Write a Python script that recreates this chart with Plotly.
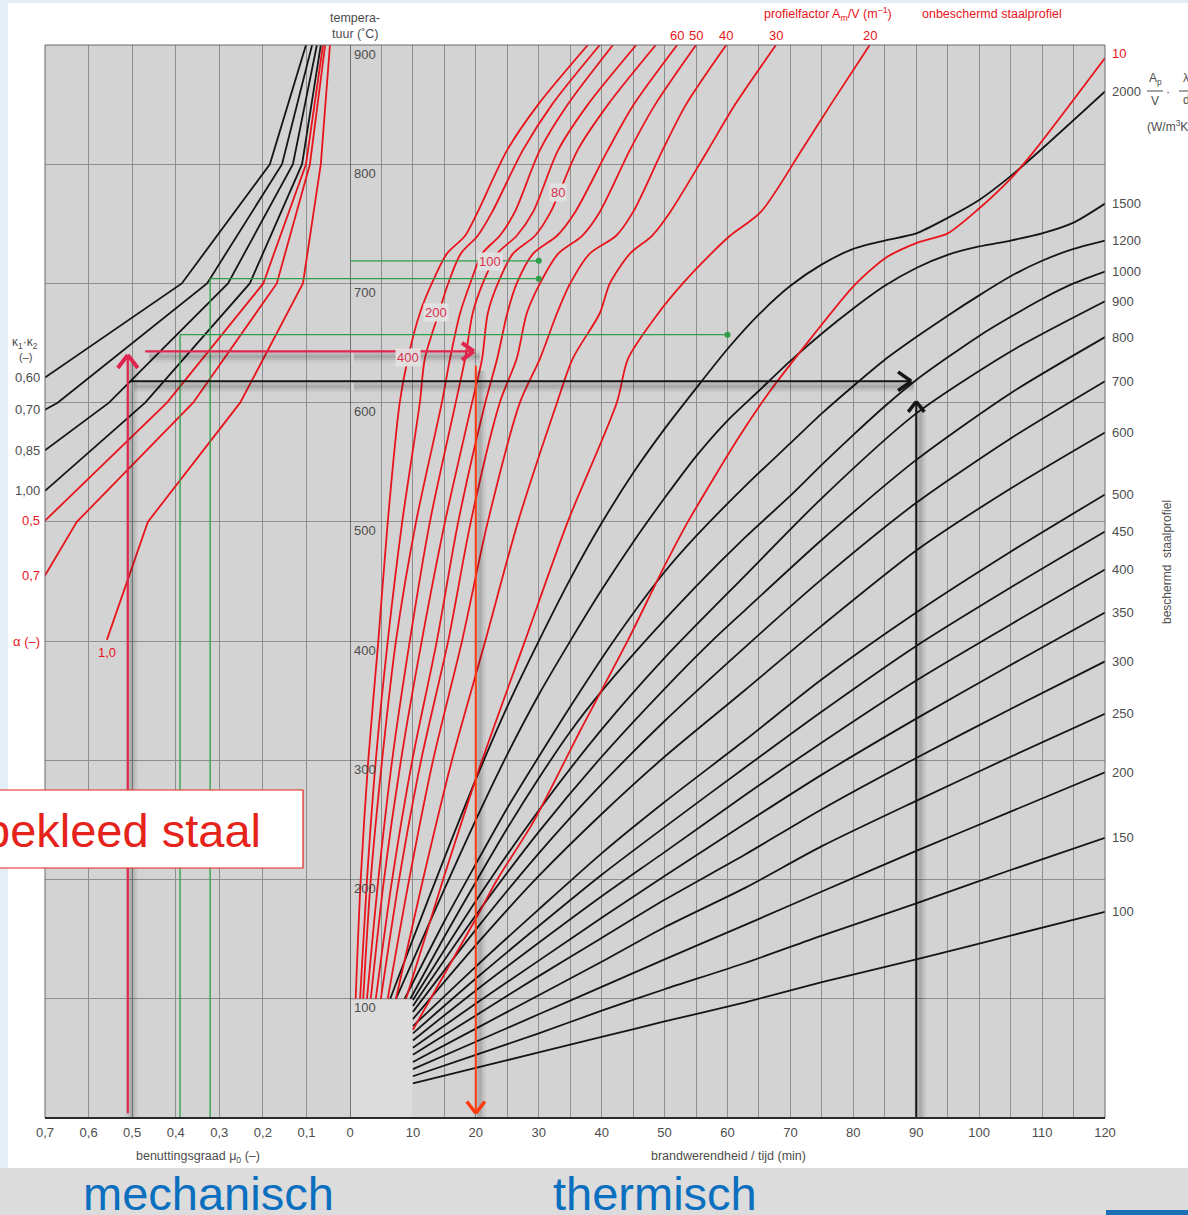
import plotly.graph_objects as go

# ------------------------------------------------------------------
# Mechanical panel (left): critical steel temperature vs utilisation mu0
# ------------------------------------------------------------------
kappa_names = ["0,60", "0,70", "0,85", "1,00"]
kappa_T = [[621, 700, 800, 900],
           [594, 600, 700, 800, 900],
           [560, 600, 700, 800, 900],
           [526, 600, 700, 800, 900]]
kappa_mu = [[0.70, 0.386, 0.184, 0.101],
            [0.70, 0.671, 0.328, 0.156, 0.087],
            [0.70, 0.553, 0.280, 0.131, 0.076],
            [0.70, 0.470, 0.230, 0.110, 0.067]]

alpha_names = ["0,5", "0,7", "1,0"]
alpha_T = [[501, 600, 700, 800, 900],
           [455, 500, 600, 700, 800, 900],
           [401, 500, 600, 700, 800, 900]]
alpha_mu = [[0.70, 0.420, 0.199, 0.101, 0.062],
            [0.70, 0.627, 0.360, 0.168, 0.092, 0.057],
            [0.558, 0.464, 0.252, 0.108, 0.067, 0.046]]

# ------------------------------------------------------------------
# Thermal panel (right): protected steel, Ap/V * lambda_p/d_p (W/m3K)
# ------------------------------------------------------------------
prot_names = ["2000", "1500", "1200", "1000", "900", "800", "700", "600",
              "500", "450", "400", "350", "300", "250", "200", "150", "100"]
prot_t = [
    [6.4, 10, 15, 20, 25, 30, 35, 40, 45, 50, 55, 60, 65, 70, 75, 80, 85, 90, 95, 100, 105, 110, 120],
    [7.3, 10, 15, 20, 25, 30, 35, 40, 45, 50, 55, 60, 65, 70, 75, 80, 85, 90, 95, 100, 105, 110, 115, 120],
    [8.7, 15, 20, 25, 30, 35, 42, 50, 55, 62.8, 70, 75, 80, 85, 90, 95, 100, 105, 110, 115, 120],
    [9.6, 15, 20, 25, 30, 35, 40, 47.4, 55, 62.8, 70, 75, 80, 85, 90, 95, 100, 105, 110, 115, 120],
    [10, 20, 30, 40, 50, 62.8, 75, 90, 105, 120],
    [10, 20, 30, 40, 50, 57.7, 62.8, 75, 90, 105, 120],
    [10, 20, 30, 40, 50, 62.8, 75, 90, 105, 120],
    [10, 20, 30, 40, 50, 62.8, 75, 90, 105, 120],
    [10, 20, 30, 40, 50, 62.8, 75, 90, 105, 120],
    [10, 20, 30, 40, 50, 62.8, 75, 90, 105, 120],
    [10, 20, 30, 40, 50, 62.8, 75, 90, 105, 120],
    [10, 20, 30, 40, 50, 62.8, 75, 90, 105, 120],
    [10, 20, 30, 40, 50, 62.8, 75, 90, 105, 120],
    [10, 20, 30, 40, 50, 62.8, 75, 90, 105, 120],
    [10, 20, 30, 40, 50, 62.8, 75, 90, 105, 120],
    [10, 20, 30, 40, 50, 62.8, 75, 90, 105, 120],
    [10, 20, 30, 40, 50, 62.8, 75, 90, 105, 120],
]
prot_T = [
    [100, 150, 218, 284, 345, 400, 452, 499, 541, 578, 612, 645, 674, 698, 716, 729, 736, 742, 755, 770, 790, 813, 861],
    [100, 132, 192, 250, 305, 355, 400, 443, 483, 520, 555, 585, 610, 635, 658, 679, 698, 713, 724, 731, 736, 742, 751, 767],
    [100, 165, 213, 260, 303, 345, 401, 458, 488, 530, 566, 591, 614, 636, 655, 673, 690, 706, 719, 729, 736],
    [100, 152, 198, 243, 285, 324, 358, 403, 446, 487, 522, 548, 573, 597, 619, 638, 656, 672, 687, 700, 710],
    [99, 182, 258, 326, 386, 455, 520, 591, 643, 685],
    [94, 170, 240, 303, 360, 401, 426, 485, 552, 608, 655],
    [89, 158, 222, 280, 333, 395, 452, 516, 570, 618],
    [83, 145, 203, 255, 303, 359, 413, 476, 528, 575],
    [77, 127, 175, 222, 265, 317, 368, 424, 475, 523],
    [71, 117, 161, 204, 244, 294, 341, 396, 445, 492],
    [65, 107, 147, 186, 223, 271, 315, 367, 414, 460],
    [59, 96, 132, 168, 203, 247, 288, 335, 380, 424],
    [53, 86, 119, 151, 183, 221, 259, 302, 343, 383],
    [47, 75, 103, 131, 160, 193, 228, 266, 303, 339],
    [41, 64, 87, 110, 133, 162, 190, 224, 257, 290],
    [35, 53, 71, 90, 108, 130, 153, 180, 208, 235],
    [29, 42, 55, 68, 81, 97, 114, 133, 153, 173],
]

# Unprotected steel, profile factor Am/V (1/m): time (min) at each temperature level
unprot_names = ["400", "200", "150", "100", "80", "60", "50", "40", "30", "20"]
unprot_T = [100, 200, 300, 400, 500, 600, 637, 675, 700, 725, 740, 760, 812, 850, 900]
unprot_t = [
    [0.9, 1.7, 2.9, 4.5, 6.0, 7.9, 9.2, 11.1, 13.0, 15.4, 18.3, 20.3, 25.0, 29.9, 37.8],
    [1.6, 2.7, 4.1, 6.0, 8.3, 11.1, 11.9, 14.1, 15.6, 17.6, 20.3, 22.6, 27.5, 32.1, 39.7],
    [2.1, 3.3, 5.1, 7.3, 10.5, 14.6, 15.9, 17.5, 19.1, 21.0, 23.8, 26.2, 30.2, 34.6, 41.8],
    [2.7, 4.5, 6.7, 9.5, 12.7, 16.8, 18.3, 19.5, 21.1, 23.4, 26.5, 29.1, 33.1, 37.8, 45.5],
    [3.3, 5.4, 8.1, 11.4, 15.1, 19.4, 21.0, 21.9, 23.5, 25.9, 29.4, 31.9, 36.2, 41.0, 48.6],
    [4.1, 6.7, 9.9, 13.8, 17.2, 21.5, 23.4, 25.0, 26.5, 29.1, 32.9, 35.8, 41.0, 45.1, 52.0],
    [4.9, 7.8, 11.3, 15.6, 19.2, 23.8, 26.5, 28.1, 30.2, 33.1, 36.9, 39.7, 44.5, 48.5, 55.0],
    [6.0, 9.4, 13.2, 17.8, 21.9, 27.0, 30.2, 32.9, 35.0, 38.1, 42.3, 45.0, 49.7, 53.4, 59.8],
    [7.3, 11.6, 16.2, 21.5, 26.7, 32.9, 35.4, 39.7, 41.3, 44.5, 48.0, 50.9, 56.9, 61.2, 67.7],
    [8.9, 14.8, 21.0, 27.8, 34.6, 42.4, 44.2, 49.0, 52.9, 57.4, 60.4, 65.3, 71.8, 76.4, 82.6],
]
am10_t = [10.0, 20.2, 23.4, 29.1, 34.2, 36.6, 44.2, 49.7, 53.7, 61.8, 66.8, 73.4, 79.9, 85.0, 90.1, 95.0, 99.8, 105.2, 108.9, 120]
am10_T = [74, 169, 200, 248, 300, 325, 401, 460, 500, 571, 610, 655, 697, 721, 734, 742, 762, 789, 812, 889]

# inline labels of the unprotected curves (time, temperature)
inline_names = ["80", "100", "200", "400"]
inline_t = [33.1, 22.3, 13.7, 9.2]
inline_T = [776, 718, 676, 638]
top_names = ["60", "50", "40", "30", "20"]

# worked example and reading lines
ex_mu = 0.51          # red vertical, utilisation
ex_T_red = 643        # red horizontal
ex_t_red = 20         # orange vertical
ex_T_black = 618      # black horizontal
ex_t_black = 90       # black vertical
ex_mu_black = 0.505
green_mu = [0.390, 0.321]
green_T = [657, 704, 719]
green_t = [60, 30, 30]

mu_ticks = [0.7, 0.6, 0.5, 0.4, 0.3, 0.2, 0.1]
mu_ticktext = ["0,7", "0,6", "0,5", "0,4", "0,3", "0,2", "0,1"]
time_ticks = list(range(0, 121, 10))
temp_ticks = [100, 200, 300, 400, 500, 600, 700, 800, 900]

# ------------------------------------------------------------------
W, H = 1188, 1215
ML, MR, MT, MB = 45, 83, 45, 97
PW, PH = W - ML - MR, H - MT - MB
SPLIT = 305 / PW
MIN_PX = 120 / (PW - 305)     # minutes per pixel
MU_PX = 0.7 / 305             # mu0 per pixel
TC_PX = 900 / PH              # degC per pixel


def px(x):
    return (x - ML) / PW


def py(y):
    return (H - MB - y) / PH


RED = "#e8141c"
BLACK = "#151515"
GRID = "#8e8e8e"
TXT = "#4d4d4d"
FONT = "Liberation Sans, Arial, sans-serif"

fig = go.Figure()

# left panel curves
for T, mu in zip(kappa_T, kappa_mu):
    fig.add_trace(go.Scatter(x=mu, y=T, xaxis="x", yaxis="y", mode="lines",
                             line=dict(color=BLACK, width=1.8), hoverinfo="skip"))
for T, mu in zip(alpha_T, alpha_mu):
    fig.add_trace(go.Scatter(x=mu, y=T, xaxis="x", yaxis="y", mode="lines",
                             line=dict(color=RED, width=1.8), hoverinfo="skip"))

# right panel: protected steel
for t, T in zip(prot_t, prot_T):
    fig.add_trace(go.Scatter(x=t, y=T, xaxis="x2", yaxis="y", mode="lines",
                             line=dict(color=BLACK, width=1.8, shape="spline", smoothing=0.7),
                             hoverinfo="skip"))
# right panel: unprotected steel
for t in unprot_t:
    fig.add_trace(go.Scatter(x=t, y=unprot_T, xaxis="x2", yaxis="y", mode="lines",
                             line=dict(color=RED, width=1.8, shape="spline", smoothing=0.8),
                             hoverinfo="skip"))
fig.add_trace(go.Scatter(x=am10_t, y=am10_T, xaxis="x2", yaxis="y", mode="lines",
                         line=dict(color=RED, width=1.8, shape="spline", smoothing=0.7),
                         hoverinfo="skip"))

shapes = []

# page background pieces
shapes.append(dict(type="rect", xref="paper", yref="paper", x0=px(-5), x1=px(8), y0=py(1168), y1=py(-5),
                   fillcolor="#e3eef7", line=dict(width=0), layer="below"))
shapes.append(dict(type="rect", xref="paper", yref="paper", x0=px(-5), x1=px(W + 5), y0=py(3), y1=py(-5),
                   fillcolor="#e3eef7", line=dict(width=0), layer="below"))
shapes.append(dict(type="rect", xref="paper", yref="paper", x0=px(-5), x1=px(W + 5), y0=py(H + 5), y1=py(1168),
                   fillcolor="#dcdcdc", line=dict(width=0), layer="below"))
shapes.append(dict(type="rect", xref="paper", yref="paper", x0=px(1106), x1=px(W + 5), y0=py(H + 5), y1=py(1210),
                   fillcolor="#1d6fb8", line=dict(width=0), layer="below"))

# start box 0-10 min / 0-100 degC
shapes.append(dict(type="rect", xref="x2", yref="y", x0=0, x1=10, y0=0, y1=100,
                   fillcolor="#dcdcdc", line=dict(width=0), layer="between"))
shapes.append(dict(type="line", xref="x2", yref="y", x0=0, x1=10, y0=100, y1=100,
                   line=dict(color=GRID, width=1), layer="between"))
# zero line between the panels
shapes.append(dict(type="line", xref="x2", yref="y", x0=0, x1=0, y0=0, y1=900,
                   line=dict(color="#3c3c3c", width=1.3), layer="between"))


def seg(xref, x0, y0, x1, y1, color, width, layer="above"):
    shapes.append(dict(type="line", xref=xref, yref="y", x0=x0, y0=y0, x1=x1, y1=y1,
                       line=dict(color=color, width=width), layer=layer))


def shadow(xref, x0, y0, x1, y1, unit):
    # soft offset shadow under a guide line (offset in px converted to axis units)
    ox, oy = 4 * unit, -5 * TC_PX
    for w, a in ((12, 0.05), (7, 0.07), (3, 0.08)):
        seg(xref, x0 + ox, y0 + oy, x1 + ox, y1 + oy, "rgba(0,0,0,%s)" % a, w)


def chevron(xref, x, y, direction, color, unit, size=11, width=4):
    # direction: 'up', 'down', 'right'; unit = axis units per pixel along x
    if direction == "up":
        pts = [(x - size * unit, y - size * 1.3 * TC_PX), (x, y), (x + size * unit, y - size * 1.3 * TC_PX)]
    elif direction == "down":
        pts = [(x - size * unit, y + size * 1.3 * TC_PX), (x, y), (x + size * unit, y + size * 1.3 * TC_PX)]
    else:
        pts = [(x - size * 1.2 * unit, y + size * 0.85 * TC_PX), (x, y), (x - size * 1.2 * unit, y - size * 0.85 * TC_PX)]
    for (ax, ay), (bx, by) in ((pts[0], pts[1]), (pts[1], pts[2])):
        seg(xref, ax, ay, bx, by, color, width)


# green reading lines
GREEN = "#2e9e4a"
seg("x", green_mu[0], 0, green_mu[0], green_T[0], GREEN, 1.3)
seg("x", green_mu[0], green_T[0], 0, green_T[0], GREEN, 1.3)
seg("x2", 0, green_T[0], green_t[0], green_T[0], GREEN, 1.3)
seg("x", green_mu[1], 0, green_mu[1], green_T[1], GREEN, 1.3)
seg("x", green_mu[1], green_T[1], 0, green_T[1], GREEN, 1.3)
seg("x2", 0, green_T[1], green_t[1], green_T[1], GREEN, 1.3)
seg("x2", 0, green_T[2], green_t[2], green_T[2], GREEN, 1.3)
fig.add_trace(go.Scatter(x=green_t, y=green_T, xaxis="x2", yaxis="y", mode="markers",
                         marker=dict(color=GREEN, size=6), hoverinfo="skip"))

# black example: horizontal at critical temperature, vertical at required time
shadow("x", ex_mu_black, ex_T_black, 0, ex_T_black, -MU_PX)
shadow("x2", 0, ex_T_black, ex_t_black - 1, ex_T_black, MIN_PX)
shadow("x2", ex_t_black, 0, ex_t_black, ex_T_black - 15, MIN_PX)
seg("x", ex_mu_black, ex_T_black, 0, ex_T_black, BLACK, 2)
seg("x2", 0, ex_T_black, ex_t_black - 0.8, ex_T_black, BLACK, 2)
chevron("x2", ex_t_black - 0.8, ex_T_black, "right", BLACK, MIN_PX, size=11, width=3.5)
seg("x2", ex_t_black, 0, ex_t_black, ex_T_black - 17, BLACK, 2)
chevron("x2", ex_t_black, ex_T_black - 17, "up", BLACK, MIN_PX, size=8, width=3.5)

# red example: vertical at mu0, horizontal to the unprotected curve
CRIMSON = "#e0264e"
shadow("x", ex_mu, 2, ex_mu, ex_T_red - 5, -MU_PX)
shadow("x", ex_mu - 0.04, ex_T_red, 0, ex_T_red, -MU_PX)
shadow("x2", 0, ex_T_red, ex_t_red, ex_T_red, MIN_PX)
seg("x", ex_mu, 4, ex_mu, ex_T_red - 3, CRIMSON, 2.2)
chevron("x", ex_mu, ex_T_red - 3, "up", CRIMSON, -MU_PX, size=10, width=4)
seg("x", ex_mu - 0.04, ex_T_red, 0, ex_T_red, CRIMSON, 2.2)
seg("x2", 0, ex_T_red, ex_t_red - 0.3, ex_T_red, CRIMSON, 2.2)
chevron("x2", ex_t_red - 0.3, ex_T_red, "right", CRIMSON, MIN_PX, size=10, width=4)

# orange read-off down to the time axis
ORANGE = "#ff3a10"
shadow("x2", ex_t_red, 4, ex_t_red, ex_T_red - 12, MIN_PX)
seg("x2", ex_t_red, 4, ex_t_red, ex_T_red - 12, ORANGE, 2)
chevron("x2", ex_t_red, 4, "down", ORANGE, MIN_PX, size=9, width=3.5)

# plot frame
shapes.append(dict(type="rect", xref="paper", yref="paper", x0=0, x1=1, y0=0, y1=1,
                   line=dict(color="#6a6a6a", width=1), fillcolor="rgba(0,0,0,0)", layer="above"))
shapes.append(dict(type="line", xref="paper", yref="paper", x0=0, x1=1, y0=0, y1=0,
                   line=dict(color="#2a2a2a", width=2), layer="above"))

# "bekleed staal" callout box
shapes.append(dict(type="rect", xref="paper", yref="paper", x0=px(-3), x1=px(303), y0=py(868), y1=py(790),
                   fillcolor="white", line=dict(color="#e5231b", width=1.2), layer="above"))

ann = []


def text(x, y, s, size=13, color=TXT, xanchor="center", yanchor="middle", xref="paper", yref="paper",
         bg=None, angle=0, family=FONT):
    a = dict(x=x, y=y, xref=xref, yref=yref, text=s, showarrow=False, xanchor=xanchor, yanchor=yanchor,
             font=dict(size=size, color=color, family=family), textangle=angle)
    if bg:
        a["bgcolor"] = bg
        a["borderpad"] = 1
    ann.append(a)


# temperature scale inside the chart
for T in temp_ticks:
    text(px(352), T - 9 * TC_PX, str(T), xanchor="left", yref="y")
text(px(355), py(18), "tempera-", size=12.5)
text(px(355), py(34), "tuur (˚C)", size=12.5)

# left panel labels
text(px(25), py(343), "κ<sub>1</sub>·κ<sub>2</sub>", size=12)
text(px(25), py(357), "(–)", size=11)
for name, T in zip(kappa_names, kappa_T):
    text(px(42), T[0], name, xanchor="right", yref="y")
for name, T in zip(alpha_names[:2], alpha_T[:2]):
    text(px(42), T[0], name, xanchor="right", yref="y", color=RED)
text(px(42), py(641), "α (–)", xanchor="right", color=RED)
text(px(107), py(652), alpha_names[2], color=RED)

# axis titles
text(px(198), py(1157), "benuttingsgraad μ<sub>0</sub> (–)", size=12.5)
text(px(728), py(1156), "brandwerendheid / tijd (min)", size=12.5)

# protected steel labels on the right edge
for name, T in zip(prot_names, prot_T):
    text(px(1110), T[-1], name, xanchor="left", yref="y")
text(px(1110), am10_T[-1] + 4, "10", xanchor="left", yref="y", color=RED)
text(px(1155), py(79), "A<sub>p</sub>", size=12)
text(px(1155), py(101), "V", size=12)
text(px(1168), py(92), "·", size=12)
text(px(1181), py(79), "λ<sub>p</sub>", size=12, xanchor="left")
text(px(1181), py(101), "d<sub>p</sub>", size=12, xanchor="left")
shapes.append(dict(type="line", xref="paper", yref="paper", x0=px(1147), x1=px(1163), y0=py(91), y1=py(91),
                   line=dict(color=TXT, width=1)))
shapes.append(dict(type="line", xref="paper", yref="paper", x0=px(1179), x1=px(1195), y0=py(91), y1=py(91),
                   line=dict(color=TXT, width=1)))
text(px(1145), py(126), "(W/m<sup>3</sup>K)", size=12, xanchor="left")
text(px(1167), py(562), "beschermd  staalprofiel", size=12, angle=-90)

# unprotected steel labels
text(px(828), py(14), "profielfactor A<sub>m</sub>/V (m<sup>−1</sup>)", size=12.5, color=RED)
text(px(992), py(14), "onbeschermd staalprofiel", size=12.5, color=RED)
for name in top_names:
    t_end = unprot_t[unprot_names.index(name)][-1]
    text(t_end, py(36), name, xref="x2", color=RED, size=13)
for name, t, T in zip(inline_names, inline_t, inline_T):
    text(t, T, name, xref="x2", yref="y", color="#d8304e", size=13, bg="rgba(226,226,226,0.95)")

# slide captions
text(px(263), py(830), "bekleed staal", size=47, color="#e5231b", xanchor="right")
text(px(208), py(1193), "mechanisch", size=47, color="#0a6fbf")
text(px(655), py(1193), "thermisch", size=47, color="#0a6fbf")

axis_common = dict(showgrid=True, gridcolor=GRID, gridwidth=1, zeroline=False, showline=False,
                   ticks="", ticklabelstandoff=5, tickfont=dict(size=13, color=TXT, family=FONT))

fig.update_layout(
    width=W, height=H, margin=dict(l=ML, r=MR, t=MT, b=MB, pad=0),
    paper_bgcolor="white", plot_bgcolor="#d3d3d3", showlegend=False,
    xaxis=dict(domain=[0, SPLIT], range=[0.7, 0], tickvals=mu_ticks, ticktext=mu_ticktext,
               anchor="y", **axis_common),
    xaxis2=dict(domain=[SPLIT, 1], range=[0, 120], tickvals=time_ticks,
                ticktext=[str(v) for v in time_ticks], anchor="y",
                minor=dict(dtick=5, tick0=0, showgrid=True, gridcolor=GRID, gridwidth=1),
                **axis_common),
    yaxis=dict(range=[0, 900], tickvals=temp_ticks, showticklabels=False, anchor="x",
               showgrid=True, gridcolor=GRID, gridwidth=1, zeroline=False, showline=False, ticks=""),
    shapes=shapes,
    annotations=ann,
)

fig.write_html("out.html")
